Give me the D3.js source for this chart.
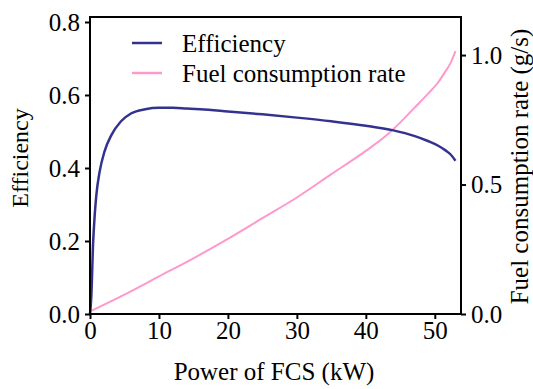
<!DOCTYPE html>
<html>
<head>
<meta charset="utf-8">
<script src="https://cdn.jsdelivr.net/npm/d3@7"></script>
<style>
  body { margin: 0; background: #fff; }
  svg text { font-family: "Liberation Serif", "DejaVu Serif", serif; fill: #000; }
</style>
</head>
<body>
<div id="chart"></div>
<script>
// power of FCS (kW) and efficiency
var effPower = [0, 0.1, 0.2, 0.44, 0.68, 0.92, 1.4, 2.1, 3.1, 4.5, 6, 8, 10, 12, 14, 16, 20, 25, 30, 35, 40, 44, 47, 49, 50.5, 51.5, 52.3, 53];
var effValues = [0, 0.02, 0.052, 0.19, 0.27, 0.326, 0.39, 0.445, 0.49, 0.528, 0.55, 0.561, 0.565, 0.565, 0.563, 0.561, 0.555, 0.547, 0.538, 0.528, 0.516, 0.503, 0.488, 0.474, 0.461, 0.449, 0.437, 0.42];

// power of FCS (kW) and fuel consumption rate (g/s)
var fuelPower = [0, 5, 10, 15, 20, 25, 30, 35, 40, 43, 45, 47, 49, 50.5, 51.5, 52.3, 53];
var fuelValues = [0.01, 0.075, 0.145, 0.215, 0.29, 0.37, 0.45, 0.54, 0.63, 0.69, 0.74, 0.795, 0.85, 0.895, 0.935, 0.97, 1.015];

var xTicks = [0, 10, 20, 30, 40, 50];
var leftTicks = [0, 0.2, 0.4, 0.6, 0.8];
var rightTicks = [0, 0.5, 1.0];
var seriesNames = ["Efficiency", "Fuel consumption rate"];
var seriesColors = ["#33338f", "#ff99cc"];

var serif = "'Liberation Serif', 'DejaVu Serif', serif";
var width = 533, height = 389;
var margin = { top: 17, right: 72, bottom: 75, left: 90 };
var w = width - margin.left - margin.right,
    h = height - margin.top - margin.bottom;

var svg = d3.select("#chart").append("svg")
    .attr("width", width)
    .attr("height", height)
    .attr("font-family", serif);

var g = svg.append("g")
    .attr("transform", "translate(" + margin.left + "," + margin.top + ")");

var x = d3.scaleLinear().domain([0, 53.8]).range([0, w]);
var yL = d3.scaleLinear().domain([0, 0.8137]).range([h, 0]);
var yR = d3.scaleLinear().domain([0, 1.147]).range([h, 0]);

// series
var effData = effPower.map(function (p, i) { return [p, effValues[i]]; });
var fuelData = fuelPower.map(function (p, i) { return [p, fuelValues[i]]; });

var effLine = d3.line()
    .x(function (d) { return x(d[0]); })
    .y(function (d) { return yL(d[1]); })
    .curve(d3.curveMonotoneX);

var fuelLine = d3.line()
    .x(function (d) { return x(d[0]); })
    .y(function (d) { return yR(d[1]); })
    .curve(d3.curveMonotoneX);

g.append("path").datum(fuelData)
    .attr("d", fuelLine)
    .attr("fill", "none")
    .attr("stroke", seriesColors[1])
    .attr("stroke-width", 2);

g.append("path").datum(effData)
    .attr("d", effLine)
    .attr("fill", "none")
    .attr("stroke", seriesColors[0])
    .attr("stroke-width", 2.5);

// frame
g.append("rect")
    .attr("width", w).attr("height", h)
    .attr("fill", "none")
    .attr("stroke", "#000")
    .attr("stroke-width", 2);

// axes
function styleAxis(sel) {
    sel.attr("font-family", serif);
    sel.select(".domain").remove();
    sel.selectAll(".tick line").attr("stroke", "#000").attr("stroke-width", 2);
    sel.selectAll(".tick text")
        .style("font-family", serif)
        .style("font-size", "25px")
        .attr("fill", "#000");
}

g.append("g")
    .attr("transform", "translate(0," + h + ")")
    .call(d3.axisBottom(x).tickValues(xTicks).tickSize(5).tickPadding(2).tickFormat(d3.format("d")))
    .call(styleAxis);

g.append("g")
    .call(d3.axisLeft(yL).tickValues(leftTicks).tickSize(5).tickPadding(5).tickFormat(d3.format(".1f")))
    .call(styleAxis);

g.append("g")
    .attr("transform", "translate(" + w + ",0)")
    .call(d3.axisRight(yR).tickValues(rightTicks).tickSize(5).tickPadding(5).tickFormat(d3.format(".1f")))
    .call(styleAxis);

// axis titles
svg.append("text")
    .attr("x", 274)
    .attr("y", 380)
    .attr("text-anchor", "middle")
    .style("font-size", "25px")
    .text("Power of FCS (kW)");

svg.append("text")
    .attr("transform", "translate(28,158) rotate(-90)")
    .attr("text-anchor", "middle")
    .style("font-size", "24px")
    .text("Efficiency");

svg.append("text")
    .attr("transform", "translate(528,166.5) rotate(-90)")
    .attr("text-anchor", "middle")
    .style("font-size", "25px")
    .text("Fuel consumption rate (g/s)");

// legend
var legend = g.append("g").attr("transform", "translate(42,26)");
seriesNames.forEach(function (name, i) {
    var row = legend.append("g").attr("transform", "translate(0," + (i * 30) + ")");
    row.append("line")
        .attr("x1", 0).attr("x2", 30)
        .attr("stroke", seriesColors[i])
        .attr("stroke-width", 2.5);
    row.append("text")
        .attr("x", 50).attr("y", 9)
        .style("font-size", "25px")
        .text(name);
});
</script>
</body>
</html>
